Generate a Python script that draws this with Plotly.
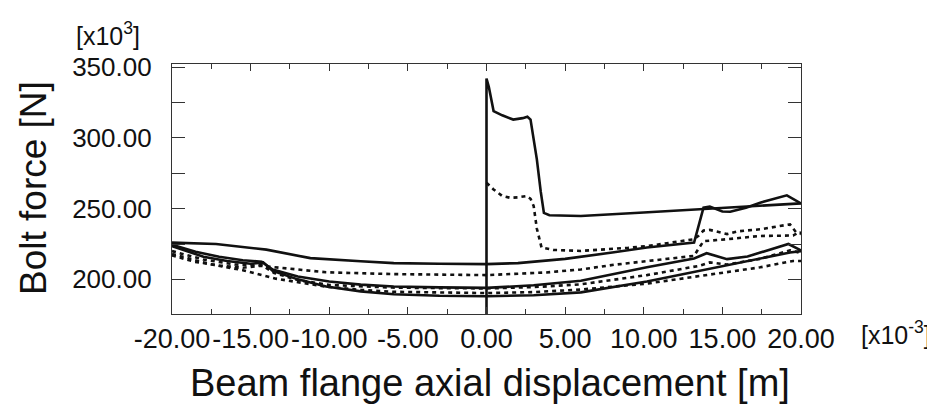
import plotly.graph_objects as go

# ---- data ----
s1_x = [0, 0, 0.15, 0.45, 1.0, 1.7, 2.3, 2.6, 2.8, 3.0, 3.2, 3.45, 3.65, 4.0, 6.0, 10.0, 13.5, 16.5, 20.0]
s1_y = [150, 342, 336, 319, 316, 313, 314, 315, 313, 300, 285, 262, 247, 245.3, 244.8, 247.3, 249.5, 251.3, 253.7]

s2_x = [-20, -17.2, -14, -11.2, -8, -5.9, -3, 0, 2, 5, 8, 10.2, 13.2, 13.5, 13.8, 14.2, 15.0, 15.5, 16.5, 17.4, 19.1, 20]
s2_y = [226, 225, 221, 215, 212.8, 211.5, 211, 210.8, 211.5, 214.5, 219, 222.5, 226, 238, 250.7, 251.5, 248, 247.8, 250.7, 254.2, 259.4, 253.7]

s3_x = [-20, -18.5, -17, -15.5, -14.3, -13.6, -12, -10, -8, -5.9, -3, 0, 3, 6, 10.2, 13.2, 14.0, 14.6, 15.3, 16.6, 19.2, 20]
s3_y = [224.5, 219.5, 216, 213.5, 212.5, 207, 202, 198.5, 196.3, 195, 194.3, 194, 195.8, 199, 208.5, 214.8, 218.5, 216.5, 214.3, 216.2, 225, 220.5]

s4_x = [-20, -18, -16.5, -15, -14.2, -13.6, -12, -10.2, -8, -5.9, -3, 0, 3, 6, 10.2, 14.4, 17, 19.3, 20]
s4_y = [223.5, 216, 213, 211, 212, 206, 200, 195, 191.5, 189.5, 188.4, 188, 188.8, 190.8, 198.5, 208, 213.5, 219, 220]

d1_x = [0, 0.2, 0.45, 1.0, 1.5, 2.0, 2.56, 2.8, 3.0, 3.2, 3.5, 4.26, 6, 9, 10.2, 13.2, 13.5, 13.8, 14.2, 15.3, 16, 17.4, 19.3, 19.7, 20]
d1_y = [268.3, 266, 263.6, 259, 257.7, 258, 258.9, 257, 251.8, 236, 222.5, 220.8, 220.1, 222.3, 223.5, 228.4, 231, 234.5, 235, 232, 234, 235.4, 238.9, 233.1, 233]

d2_x = [-20, -18.6, -17, -15.5, -14.4, -13.8, -12, -10.2, -5.9, 0, 3.8, 6, 8.1, 10.2, 13.2, 13.5, 13.8, 15.3, 17.4, 19.5, 19.8, 20]
d2_y = [217, 212.5, 209.8, 208.2, 209.6, 209, 207, 205, 203.7, 203, 204.9, 207, 210.3, 213, 216.6, 222, 227, 228.4, 230.7, 231, 233, 232]

d3_x = [-20, -18, -16, -14.3, -13.5, -12, -10, -6, -3, 0, 3, 6, 10.2, 13.5, 14.2, 15.3, 17.4, 19.3, 20]
d3_y = [220, 214, 210.5, 210, 204.5, 199.5, 196, 194.2, 193.8, 193.6, 194.5, 196.5, 203, 209.5, 212, 210.5, 214.5, 220.5, 218.5]

d4_x = [-20, -17.6, -15.5, -13.4, -10.2, -8, -5.9, -3, 0, 3, 6, 10.2, 14.4, 17.4, 19.5, 20]
d4_y = [218, 210.8, 206.5, 200.5, 194.8, 192.5, 191.2, 190.5, 190.3, 191, 192.8, 197, 204, 208.5, 213, 213]

x_tickvals = [-20, -15, -10, -5, 0, 5, 10, 15, 20]
x_ticktext = ["-20.00", "-15.00", "-10.00", "-5.00", "0.00", "5.00", "10.00", "15.00", "20.00"]
y_tickvals = [200, 250, 300, 350]
y_ticktext = ["200.00", "250.00", "300.00", "350.00"]

FONT = "Liberation Sans, Arial, sans-serif"
INK = "#111111"

fig = go.Figure()
for xs, ys in [(d1_x, d1_y), (d2_x, d2_y), (d3_x, d3_y), (d4_x, d4_y)]:
    fig.add_trace(go.Scatter(x=xs, y=ys, mode="lines",
                             line=dict(color=INK, width=2.6, dash="4px,4px"),
                             showlegend=False, hoverinfo="skip"))
for xs, ys in [(s1_x, s1_y), (s2_x, s2_y), (s3_x, s3_y), (s4_x, s4_y)]:
    fig.add_trace(go.Scatter(x=xs, y=ys, mode="lines",
                             line=dict(color=INK, width=2.6),
                             showlegend=False, hoverinfo="skip"))

# the page body has an 8px margin, so the figure is 8px smaller and margins shifted
fig.update_layout(
    width=927, height=397,
    margin=dict(l=164, r=134, t=56, b=91),
    paper_bgcolor="white", plot_bgcolor="white",
    font=dict(family=FONT, color=INK, size=25),
    xaxis=dict(range=[-20, 20], showgrid=False, zeroline=False,
               showline=True, linecolor="#333", linewidth=1.2, mirror="ticks",
               ticks="inside", ticklen=7, tickcolor="#333", tickwidth=1,
               tickvals=x_tickvals, ticktext=x_ticktext,
               tickfont=dict(size=27, family=FONT, color=INK),
               ticklabelstandoff=0,
               minor=dict(dtick=2.5, tick0=0, ticks="inside", ticklen=5,
                          tickcolor="#333", showgrid=False)),
    yaxis=dict(range=[175.5, 352.3], showgrid=False, zeroline=False,
               showline=True, linecolor="#333", linewidth=1.2, mirror="ticks",
               ticks="inside", ticklen=13, tickcolor="#333", tickwidth=1,
               tickvals=y_tickvals, ticktext=y_ticktext,
               tickfont=dict(size=26, family=FONT, color=INK),
               ticklabelstandoff=14,
               minor=dict(dtick=25, tick0=0, ticks="inside", ticklen=13,
                          tickcolor="#333", showgrid=False)),
)

fig.add_annotation(text="Beam flange axial displacement [m]", xref="paper", yref="paper",
                   x=0.5056, y=-0.276, xanchor="center", yanchor="middle",
                   showarrow=False, font=dict(size=38, family=FONT, color=INK))
fig.add_annotation(text="Bolt force [N]", xref="paper", yref="paper",
                   x=-0.221, y=0.504, xanchor="center", yanchor="middle", textangle=-90,
                   showarrow=False, font=dict(size=37, family=FONT, color=INK))
fig.add_annotation(text="[x10<sup>3</sup>]", xref="paper", yref="paper",
                   x=-0.1017, y=1.12, xanchor="center", yanchor="middle",
                   showarrow=False, font=dict(size=25, family=FONT, color=INK))
fig.add_annotation(text="[x10<sup>-3</sup>]", xref="paper", yref="paper",
                   x=1.151, y=-0.076, xanchor="center", yanchor="middle",
                   showarrow=False, font=dict(size=25, family=FONT, color=INK))

fig.write_html("out.html")
